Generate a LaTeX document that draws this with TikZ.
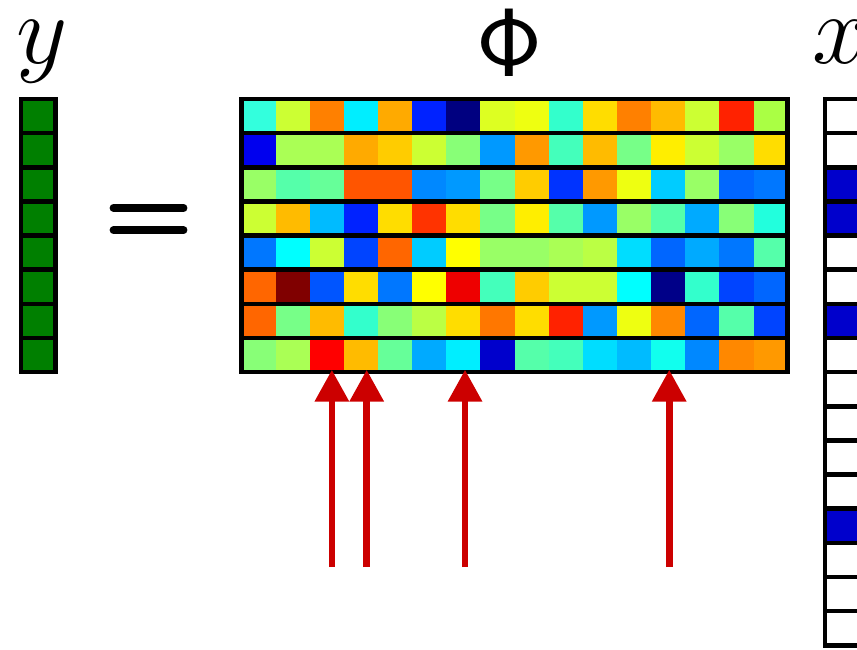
\RequirePackage{fix-cm}
\documentclass[tikz,border=0pt]{standalone}
\usepackage{xcolor}
\usepackage{tikz}
\usetikzlibrary{arrows.meta, positioning, calc}

\definecolor{ygreen}{HTML}{007F00}
\definecolor{xblue}{HTML}{0000CC}
\definecolor{selred}{HTML}{CC0000}

\begin{document}
\begin{tikzpicture}[
  x=1cm, y=1cm,
  %% cell styles
  cell/.style={rectangle, minimum size=1cm, inner sep=0pt, outer sep=0pt},
  vcell/.style={cell, draw=black, line width=3.8pt},
  matframe/.style={draw=black, line width=3.8pt},
  rowline/.style={draw=black, line width=3.8pt},
  %% labels and arrows
  lbl/.style={inner sep=0pt, font=\fontsize{83}{90}\selectfont},
  philbl/.style={inner sep=0pt, font=\fontsize{81}{86}\selectfont},
  eqbar/.style={line width=6.2pt, line cap=round, black},
  sel/.style={-{Triangle[width=0.96cm, length=0.93cm]}, line width=5.6pt, selred}
]
\useasboundingbox (0,0) rectangle (25.10,-19.01);

%% ── y vector ─────────────────────────────────────────────────────────────
\foreach \r in {1,...,8}
  \node[vcell, fill=ygreen] (y\r) at (1.12,-2.4-\r) {};
\node[lbl, anchor=base] (ylab) at ($(y1.north)+(0.1,1.055)$) {$y$};

%% ── equals sign ──────────────────────────────────────────────────────────
\draw[eqbar] (3.32,-6.09) -- (5.38,-6.09);
\draw[eqbar] (3.32,-6.74) -- (5.38,-6.74);

%% ── Phi matrix (8 x 16) ──────────────────────────────────────────────────
\foreach \row [count=\r] in {
  {33FFDD,CCFF33,FF8000,00EEFF,FFAA00,0022FF,000080,DDFF22,EEFF11,33FFCC,FFDD00,FF8000,FFBB00,CCFF33,FF2200,AAFF44},
  {0000EE,AAFF55,AAFF55,FFAA00,FFCC00,CCFF33,88FF77,0099FF,FF9900,44FFBB,FFBB00,77FF88,FFEE00,CCFF33,99FF66,FFDD00},
  {99FF66,55FFAA,66FF99,FF5500,FF5500,0088FF,0099FF,77FF88,FFCC00,0033FF,FF9900,EEFF11,00CCFF,99FF66,0066FF,0077FF},
  {CCFF33,FFBB00,00BBFF,0022FF,FFDD00,FF3300,FFDD00,77FF88,FFEE00,55FFAA,0099FF,99FF66,55FFAA,00AAFF,88FF77,22FFDD},
  {0077FF,00FFFF,CCFF33,0044FF,FF6600,00CCFF,FFFF00,99FF66,99FF66,AAFF55,BBFF44,00DDFF,0066FF,00AAFF,0077FF,55FFAA},
  {FF6600,800000,0055FF,FFDD00,0077FF,FFFF00,EE0000,44FFBB,FFCC00,CCFF33,CCFF33,00FFFF,000088,33FFCC,0044FF,0066FF},
  {FF6600,77FF88,FFBB00,33FFCC,88FF77,BBFF44,FFDD00,FF7700,FFDD00,FF2200,0099FF,EEFF11,FF8800,0066FF,55FFAA,0044FF},
  {88FF77,AAFF55,FF0000,FFBB00,66FF99,00AAFF,00EEFF,0000CC,55FFAA,44FFBB,00DDFF,00BBFF,11FFEE,0088FF,FF8800,FF9900}}
{
  \foreach \hex [count=\c] in \row {
    \definecolor{cc}{HTML}{\hex}
    \node[cell, fill=cc] (m-\r-\c) at ({6.57+\c},{-2.4-\r}) {};
  }
}
\node[matframe, cell, minimum width=16cm, minimum height=8cm] (phi) at (15.07,-6.9) {};
\foreach \r in {1,...,7}
  \draw[rowline] (m-\r-1.south west) -- (m-\r-16.south east);
\node[philbl, anchor=base] (philab) at ($(phi.north)+(-0.15,0.674)$) {$\mathsf{\Phi}$};

%% ── x vector (sparse) ────────────────────────────────────────────────────
\foreach \f [count=\r] in {white,white,xblue,xblue,white,white,xblue,white,
                           white,white,white,white,xblue,white,white,white}
  \node[vcell, fill=\f] (x\r) at (24.66,-2.4-\r) {};
\node[lbl, anchor=base] (xlab) at ($(x1.north)+(-0.06,1.055)$) {$x$};

%% ── selection arrows ─────────────────────────────────────────────────────
\foreach \c/\dx [count=\i] in {3/0.15, 4/0.17, 7/0.05, 13/0.03} {
  \coordinate (s\i) at ($(m-8-\c.south)+(\dx,-5.71)$);
  \draw[sel, shorten >=-2pt] (s\i) -- (s\i |- m-8-\c.south);
}

\end{tikzpicture}
\end{document}
